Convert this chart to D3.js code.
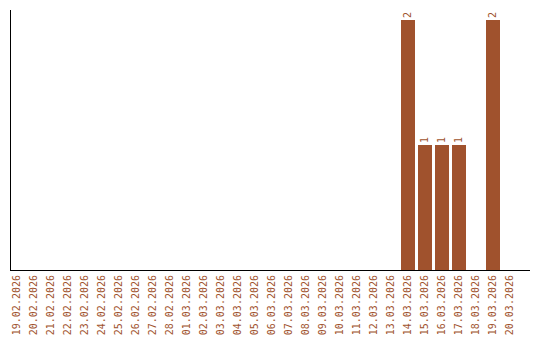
<!DOCTYPE html>
<html>
<head>
<meta charset="utf-8">
<script src="https://cdn.jsdelivr.net/npm/d3@7"></script>
<style>
  body { margin: 0; background: #fff; }
  svg text { font-family: "DejaVu Sans Mono", monospace; font-size: 10px; fill: #a0522d; }
</style>
</head>
<body>
<script>
// dates shown on the x axis
var dates = ["19.02.2026","20.02.2026","21.02.2026","22.02.2026","23.02.2026","24.02.2026",
  "25.02.2026","26.02.2026","27.02.2026","28.02.2026","01.03.2026","02.03.2026","03.03.2026",
  "04.03.2026","05.03.2026","06.03.2026","07.03.2026","08.03.2026","09.03.2026","10.03.2026",
  "11.03.2026","12.03.2026","13.03.2026","14.03.2026","15.03.2026","16.03.2026","17.03.2026",
  "18.03.2026","19.03.2026","20.03.2026"];
// count per day
var counts = [0,0,0,0,0,0,0,0,0,0,0,0,0,0,0,0,0,0,0,0,0,0,0,2,1,1,1,0,2,0];

var w = 540, h = 340;
var color = "#a0522d";

var svg = d3.select("body").append("svg")
    .attr("width", w)
    .attr("height", h);

var x = d3.scaleBand()
    .domain(dates)
    .range([8, 518])
    .paddingInner(3 / 17)
    .paddingOuter(1.5 / 17);

var y = d3.scaleLinear()
    .domain([0, 2])
    .range([270, 20]);

var data = dates.map(function(d, i) { return { date: d, v: counts[i] }; });

// bars
svg.selectAll("rect.bar")
   .data(data.filter(function(d) { return d.v > 0; }))
   .enter()
   .append("rect")
   .attr("class", "bar")
   .attr("x", function(d) { return x(d.date); })
   .attr("y", function(d) { return y(d.v); })
   .attr("width", x.bandwidth())
   .attr("height", function(d) { return y(0) - y(d.v); })
   .attr("fill", color)
   .attr("shape-rendering", "crispEdges");

// value labels
svg.selectAll("text.val")
   .data(data.filter(function(d) { return d.v > 0; }))
   .enter()
   .append("text")
   .attr("class", "val")
   .attr("transform", function(d) {
       return "translate(" + (x(d.date) + x.bandwidth() / 2) + "," + (y(d.v) - 2) + ") rotate(-90)";
   })
   .attr("dy", "0.35em")
   .attr("text-anchor", "start")
   .text(function(d) { return d.v; });

// x axis labels
var xAxis = d3.axisBottom(x).tickSize(0).tickSizeOuter(0);
var gx = svg.append("g")
   .attr("transform", "translate(0,270)")
   .call(xAxis);
gx.select(".domain").remove();
gx.selectAll("text")
   .attr("fill", color)
   .attr("y", 0)
   .attr("x", 0)
   .attr("dy", "0.35em")
   .attr("text-anchor", "end")
   .attr("transform", "translate(0,5) rotate(-90)");

// axis lines
svg.append("line")
   .attr("x1", 10.5).attr("x2", 10.5)
   .attr("y1", 10).attr("y2", 270)
   .attr("stroke", "#000");
svg.append("line")
   .attr("x1", 10).attr("x2", 530)
   .attr("y1", 270.5).attr("y2", 270.5)
   .attr("stroke", "#000");
</script>
</body>
</html>
